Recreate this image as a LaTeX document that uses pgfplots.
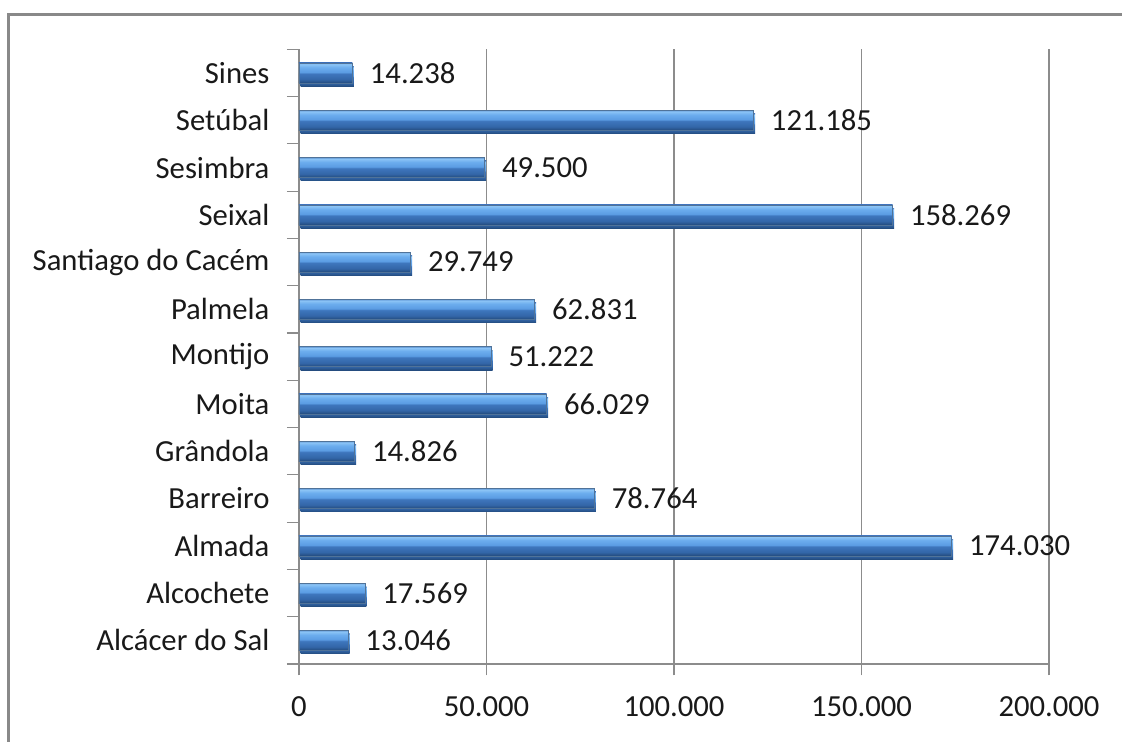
\documentclass[border=0pt]{standalone}
\usepackage{fontspec}
\setmainfont{Carlito}
\usepackage{pgfplots}
\pgfplotsset{compat=1.18}
\definecolor{gridgray}{HTML}{8C8C8C}
\definecolor{framegray}{HTML}{898989}
\definecolor{bardark}{HTML}{24507F}
\definecolor{sA}{HTML}{234B7D}
\definecolor{sB}{HTML}{3366A8}
\definecolor{sC}{HTML}{3E76BD}
\definecolor{sD}{HTML}{5B9CE3}
\definecolor{sE}{HTML}{6CADEE}
\definecolor{sF}{HTML}{8DC5F6}
\definecolor{sG}{HTML}{5F95D4}
\pgfdeclareverticalshading{barshade}{100bp}{color(0bp)=(sA); color(25bp)=(sA); color(34bp)=(sB); color(48bp)=(sC); color(52bp)=(sD); color(64bp)=(sE); color(72bp)=(sF); color(75bp)=(sG); color(100bp)=(sG)}
\pgfplotsset{mybar/.style={draw=bardark!80, line width=0.3pt,
  shading=barshade,
  preaction={fill=black!13, draw=none, transform canvas={xshift=1.2pt,yshift=-2.6pt}}}}
\begin{document}
\begin{tikzpicture}
\useasboundingbox (0pt,0pt) rectangle (841.5pt,556.5pt);
\draw[line width=2.25pt, framegray] (6pt,-2pt) -- (6pt,545.8pt) -- (845pt,545.8pt);
\begin{axis}[
  at={(224.25pt,58.5pt)}, anchor=south west,
  scale only axis, width=562.5pt, height=461pt,
  xmin=0, xmax=200000, ymin=-0.5, ymax=12.5,
  xbar, bar width=15pt, bar shift=0pt,
  axis lines*=left,
  axis line style={gridgray, line width=0.9pt},
  xtick={0,50000,100000,150000,200000},
  scaled x ticks=false,
  xmajorgrids, grid style={gridgray, line width=0.9pt},
  ytick={0,...,12},
  yticklabels={Alcácer do Sal,Alcochete,Almada,Barreiro,Grândola,Moita,Montijo,Palmela,Santiago do Cacém,Seixal,Sesimbra,Setúbal,Sines},
  minor ytick={-0.5,0.5,...,12.5},
  tick align=outside,
  major tick length=8.5pt, minor tick length=9pt,
  major y tick style={draw=none},
  minor y tick style={gridgray, line width=0.9pt},
  major x tick style={gridgray, line width=0.9pt},
  /pgf/number format/fixed,
  /pgf/number format/precision=0,
  /pgf/number format/1000 sep={.},
  /pgf/number format/assume math mode=true,
  ticklabel style={font=\fontsize{23}{27}\selectfont, text=black!90},
  xticklabel style={/pgf/number format/fixed, /pgf/number format/precision=0, /pgf/number format/1000 sep={.}},
  yticklabel style={inner sep=0pt, anchor=east, xshift=-13.5pt},
  xticklabel style={inner sep=0pt, anchor=north, yshift=-16pt},
  nodes near coords,
  nodes near coords style={anchor=west, inner sep=0pt, font=\fontsize{23}{27}\selectfont, text=black!90, xshift=13pt,
     /pgf/number format/fixed, /pgf/number format/precision=0, /pgf/number format/1000 sep={.}},
  clip=false,
]
\addplot[mybar] coordinates {(13046,0)};
\addplot[mybar] coordinates {(17569,1)};
\addplot[mybar] coordinates {(174030,2)};
\addplot[mybar] coordinates {(78764,3)};
\addplot[mybar] coordinates {(14826,4)};
\addplot[mybar] coordinates {(66029,5)};
\addplot[mybar] coordinates {(51222,6)};
\addplot[mybar] coordinates {(62831,7)};
\addplot[mybar] coordinates {(29749,8)};
\addplot[mybar] coordinates {(158269,9)};
\addplot[mybar] coordinates {(49500,10)};
\addplot[mybar] coordinates {(121185,11)};
\addplot[mybar] coordinates {(14238,12)};
\end{axis}
\end{tikzpicture}
\end{document}
